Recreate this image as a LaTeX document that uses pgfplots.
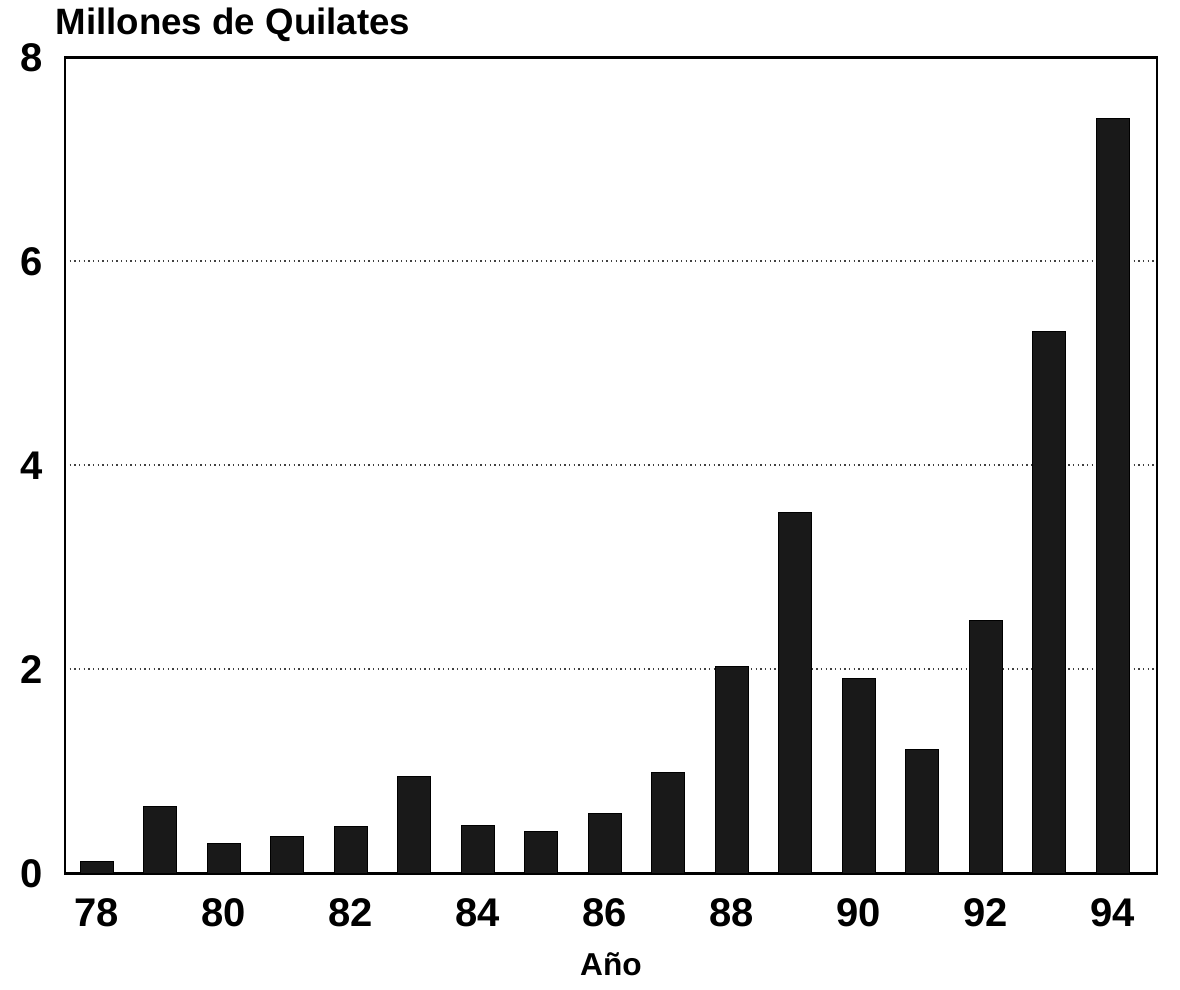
\documentclass[border=0pt]{standalone}
\usepackage{pgfplots}
\pgfplotsset{compat=1.18}
\usepackage{fontspec}
\setmainfont{Liberation Sans}
\begin{document}
\begin{tikzpicture}
\begin{axis}[
  scale only axis,
  width=327.6pt, height=244.8pt,
  xmin=77.5, xmax=94.7,
  ymin=0, ymax=8,
  xtick={78,80,...,94},
  ytick={0,2,4,6,8},
  major tick length=0pt,
  ymajorgrids,
  grid style={densely dotted, line width=0.5pt, black!75},
  axis line style={line width=0.8pt},
  tick label style={font=\fontsize{12}{14}\selectfont\bfseries},
  /pgf/number format/assume math mode=true,
  yticklabel style={xshift=-3pt},
  xticklabel style={yshift=-4pt},
  xlabel={\fontsize{9.5}{11}\selectfont\bfseries Año},
  xlabel style={yshift=-1pt},
  clip=false,
]
\addplot[ybar, bar width=0.52, fill=black!90, draw=black, line width=0.3pt] coordinates {
(78,0.12) (79,0.66) (80,0.29) (81,0.36) (82,0.46) (83,0.95) (84,0.47) (85,0.41)
(86,0.59) (87,0.99) (88,2.03) (89,3.54) (90,1.91) (91,1.21) (92,2.48) (93,5.31) (94,7.40)
};
\node[anchor=south west, font=\fontsize{11}{13}\selectfont\bfseries, inner sep=0pt] at ([xshift=-3pt,yshift=4.5pt]rel axis cs:0,1) {Millones de Quilates};
\end{axis}
\path[use as bounding box] (-19.5pt,-34.8pt) rectangle (334.5pt,262pt);
\end{tikzpicture}
\end{document}
